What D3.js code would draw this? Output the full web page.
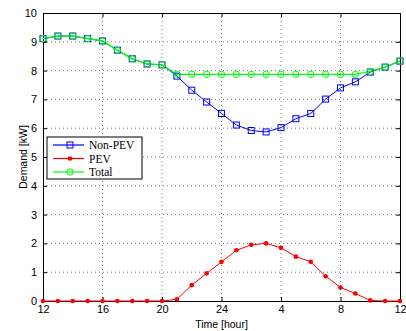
<!DOCTYPE html>
<html>
<head>
<meta charset="utf-8">
<script src="https://cdn.jsdelivr.net/npm/d3@7"></script>
<style>
  body { margin: 0; background: #fff; }
  svg text { font-family: "Liberation Sans", Arial, sans-serif; font-size: 11px; }
  .legend text { font-family: "Liberation Serif", "Times New Roman", serif; font-size: 11.5px; }
</style>
</head>
<body>
<div id="vis"></div>
<script>
// hours from noon to noon next day
const hours = d3.range(12, 37);
const nonPev = [9.11, 9.2, 9.2, 9.11, 9.03, 8.71, 8.41, 8.23, 8.2, 7.81, 7.32, 6.91, 6.51,
  6.11, 5.92, 5.87, 6.02, 6.33, 6.51, 7.01, 7.4, 7.61, 7.95, 8.12, 8.33];
const pev = [0, 0, 0, 0, 0, 0, 0, 0, 0, 0.06, 0.55, 0.96, 1.36,
  1.76, 1.95, 2.0, 1.85, 1.54, 1.36, 0.86, 0.47, 0.26, 0.02, 0, 0];
const total = nonPev.map((d, i) => d + pev[i]);
const xTicks = [12, 16, 20, 24, 28, 32, 36];
const xTickLabels = ["12", "16", "20", "24", "4", "8", "12"];
const yTicks = d3.range(0, 11);

const width = 406, height = 331;
const margin = { top: 13, right: 6, bottom: 30, left: 43 };
const w = width - margin.left - margin.right;
const h = height - margin.top - margin.bottom;

const svg = d3.select("#vis").append("svg")
  .attr("width", width).attr("height", height);
const g = svg.append("g").attr("transform", `translate(${margin.left},${margin.top})`);

const x = d3.scaleLinear().domain([12, 36]).range([0, w]);
const y = d3.scaleLinear().domain([0, 10]).range([h, 0]);

// grid
g.append("g").selectAll("line").data(xTicks.slice(1, -1)).join("line")
  .attr("x1", d => x(d)).attr("x2", d => x(d)).attr("y1", 0).attr("y2", h)
  .attr("stroke", "#555").attr("stroke-width", 0.8).attr("stroke-dasharray", "1,3");
g.append("g").selectAll("line").data(yTicks.slice(1, -1)).join("line")
  .attr("y1", d => y(d)).attr("y2", d => y(d)).attr("x1", 0).attr("x2", w)
  .attr("stroke", "#555").attr("stroke-width", 0.8).attr("stroke-dasharray", "1,3");

// axes
const xAxis = g.append("g").attr("transform", `translate(0,${h})`)
  .call(d3.axisBottom(x).tickValues(xTicks).tickFormat((d, i) => xTickLabels[i]).tickSize(-4).tickPadding(4));
const yAxis = g.append("g")
  .call(d3.axisLeft(y).tickValues(yTicks).tickSize(-4).tickPadding(6));
g.append("g").call(d3.axisTop(x).tickValues(xTicks).tickSize(-4).tickFormat(""));
g.append("g").attr("transform", `translate(${w},0)`)
  .call(d3.axisRight(y).tickValues(yTicks).tickSize(-4).tickFormat(""));
g.selectAll(".domain").attr("stroke", "#000").attr("stroke-width", 1);
g.selectAll(".tick line").attr("stroke", "#000");
g.selectAll(".tick text").attr("fill", "#000").style("font-size", "11px");

// series
const line = d3.line().x((d, i) => x(hours[i])).y(d => y(d));

g.append("path").datum(nonPev).attr("d", line)
  .attr("fill", "none").attr("stroke", "#0000ff").attr("stroke-width", 1);
g.append("path").datum(pev).attr("d", line)
  .attr("fill", "none").attr("stroke", "#ff0000").attr("stroke-width", 1);
g.append("path").datum(total).attr("d", line)
  .attr("fill", "none").attr("stroke", "#00ff00").attr("stroke-width", 1.3);

g.append("g").selectAll("rect").data(nonPev).join("rect")
  .attr("x", (d, i) => x(hours[i]) - 3).attr("y", d => y(d) - 3)
  .attr("width", 6).attr("height", 6)
  .attr("fill", "none").attr("stroke", "#0000ff").attr("stroke-width", 1);
g.append("g").selectAll("circle").data(pev).join("circle")
  .attr("cx", (d, i) => x(hours[i])).attr("cy", d => y(d)).attr("r", 2.3)
  .attr("fill", "#ff0000");
g.append("g").selectAll("circle").data(total).join("circle")
  .attr("cx", (d, i) => x(hours[i])).attr("cy", d => y(d)).attr("r", 3.2)
  .attr("fill", "none").attr("stroke", "#00ff00").attr("stroke-width", 1);

// axis labels
svg.append("text").attr("x", margin.left + w / 2).attr("y", 328)
  .attr("text-anchor", "middle").style("font-size", "10.5px").text("Time [hour]");
svg.append("text").attr("transform", `translate(27,${margin.top + h / 2}) rotate(-90)`)
  .attr("text-anchor", "middle").style("font-size", "10.5px").text("Demand [kW]");

// legend
const legend = svg.append("g").attr("class", "legend").attr("transform", "translate(47,137)");
legend.append("rect").attr("width", 95).attr("height", 42)
  .attr("fill", "#fff").attr("stroke", "#000").attr("stroke-width", 1);
const items = [
  { name: "Non-PEV", color: "#0000ff", marker: "square" },
  { name: "PEV", color: "#ff0000", marker: "dot" },
  { name: "Total", color: "#00ff00", marker: "circle" },
];
items.forEach((it, i) => {
  const row = legend.append("g").attr("transform", `translate(0,${8 + i * 13.5})`);
  row.append("line").attr("x1", 6).attr("x2", 37).attr("stroke", it.color).attr("stroke-width", 1.2);
  if (it.marker === "square") {
    row.append("rect").attr("x", 20).attr("y", -3).attr("width", 6).attr("height", 6)
      .attr("fill", "none").attr("stroke", it.color);
  } else if (it.marker === "dot") {
    row.append("circle").attr("cx", 23).attr("r", 2.3).attr("fill", it.color);
  } else {
    row.append("circle").attr("cx", 23).attr("r", 3.2).attr("fill", "none").attr("stroke", it.color);
  }
  row.append("text").attr("x", 42).attr("y", 4).text(it.name);
});
</script>
</body>
</html>
